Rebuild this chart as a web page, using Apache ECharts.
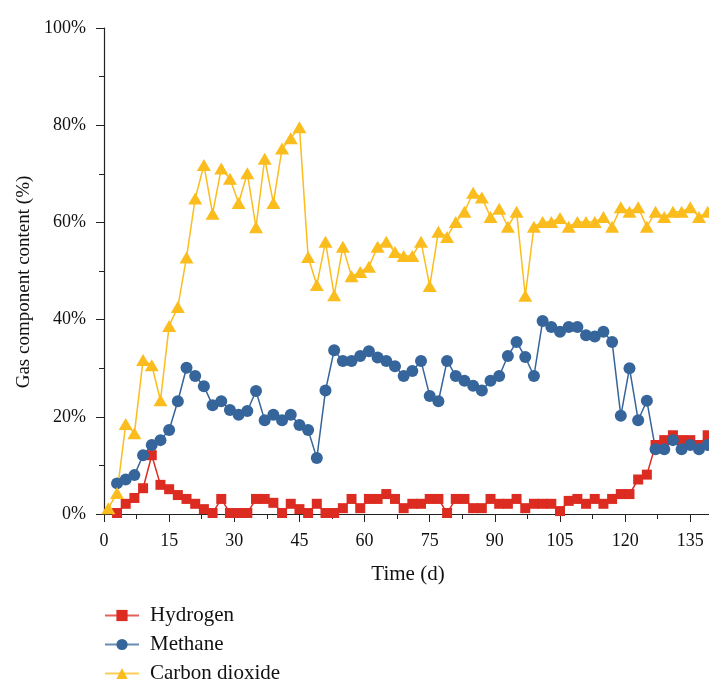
<!DOCTYPE html>
<html>
<head>
<meta charset="utf-8" />
<script src="https://cdn.jsdelivr.net/npm/echarts@6/dist/echarts.min.js"></script>
<style>
  html, body { margin: 0; padding: 0; background: #fff; }
  #main { width: 709px; height: 684px; }
</style>
</head>
<body>
<div id="main"></div>
<script>
// sampling days (d)
var days = [
  1, 3, 5, 7, 9, 11, 13, 15, 17, 19,
  21, 23, 25, 27, 29, 31, 33, 35, 37, 39,
  41, 43, 45, 47, 49, 51, 53, 55, 57, 59,
  61, 63, 65, 67, 69, 71, 73, 75, 77, 79,
  81, 83, 85, 87, 89, 91, 93, 95, 97, 99,
  101, 103, 105, 107, 109, 111, 113, 115, 117, 119,
  121, 123, 125, 127, 129, 131, 133, 135, 137, 139
];

// gas component content (%)
var hydrogen = [
  null, 0.2, 2.1, 3.3, 5.3, 12.1, 6.0, 5.1, 3.9, 3.1,
  2.1, 1.0, 0.2, 3.1, 0.2, 0.2, 0.2, 3.1, 3.1, 2.3,
  0.2, 2.1, 1.0, 0.2, 2.1, 0.2, 0.2, 1.2, 3.1, 1.2,
  3.1, 3.1, 4.1, 3.1, 1.2, 2.1, 2.1, 3.1, 3.1, 0.2,
  3.1, 3.1, 1.2, 1.2, 3.1, 2.1, 2.1, 3.1, 1.2, 2.1,
  2.1, 2.1, 0.6, 2.7, 3.1, 2.1, 3.1, 2.1, 3.1, 4.1,
  4.1, 7.1, 8.1, 14.2, 15.2, 16.2, 15.2, 15.2, 14.2, 16.2
];

var methane = [
  null, 6.3, 7.1, 8.0, 12.1, 14.2, 15.2, 17.3, 23.2, 30.1,
  28.4, 26.3, 22.4, 23.2, 21.4, 20.4, 21.2, 25.3, 19.3, 20.4,
  19.3, 20.4, 18.3, 17.3, 11.5, 25.4, 33.7, 31.5, 31.5, 32.5,
  33.5, 32.2, 31.5, 30.4, 28.4, 29.4, 31.5, 24.3, 23.2, 31.5,
  28.4, 27.4, 26.4, 25.4, 27.4, 28.4, 32.5, 35.4, 32.3, 28.4,
  39.7, 38.5, 37.5, 38.5, 38.5, 36.8, 36.5, 37.5, 35.4, 20.2,
  30.0, 19.3, 23.3, 13.3, 13.3, 15.2, 13.3, 14.2, 13.3, 14.2
];

var carbonDioxide = [
  1.2, 4.3, 18.5, 16.6, 31.7, 30.6, 23.4, 38.7, 42.6, 52.8,
  64.9, 71.8, 61.8, 71.1, 69.0, 64.0, 70.1, 59.0, 73.1, 64.0,
  75.2, 77.3, 79.6, 52.9, 47.1, 56.0, 45.0, 55.0, 48.9, 49.8,
  50.9, 55.0, 56.0, 53.9, 53.1, 53.1, 56.0, 46.9, 58.1, 57.0,
  60.1, 62.2, 66.1, 65.1, 61.1, 62.8, 59.1, 62.2, 44.9, 59.1,
  60.1, 60.1, 60.9, 59.1, 60.1, 60.1, 60.1, 61.1, 59.1, 63.1,
  62.2, 63.1, 59.1, 62.2, 61.1, 62.2, 62.2, 63.1, 61.1, 62.2
];

var seriesNames = ['Hydrogen', 'Methane', 'Carbon dioxide'];

function pairs(values) {
  var out = [];
  for (var i = 0; i < days.length; i++) {
    if (values[i] !== null) out.push([days[i], values[i]]);
  }
  return out;
}

var FONT = 'Liberation Serif';
var chart = echarts.init(document.getElementById('main'), null, { renderer: 'canvas' });

chart.setOption({
  animation: false,
  textStyle: { fontFamily: FONT, color: '#111' },
  grid: {
    left: 104,
    top: 28,
    width: 608,
    bottom: 170,
    containLabel: false,
    outerBoundsMode: 'none'
  },
  legend: {
    orient: 'vertical',
    left: 104,
    top: 605,
    height: 100,
    padding: 0,
    itemWidth: 34,
    itemHeight: 14,
    itemGap: 8,
    lineStyle: { opacity: 0.75 },
    textStyle: { fontFamily: FONT, fontSize: 21, color: '#111', padding: [0, 0, 0, 6] },
    data: seriesNames
  },
  xAxis: {
    type: 'value',
    min: 0,
    max: 140,
    interval: 15,
    name: 'Time (d)',
    nameLocation: 'middle',
    nameGap: 50,
    nameTextStyle: { fontFamily: FONT, fontSize: 21, color: '#111' },
    axisLine: { onZero: false, lineStyle: { color: '#222', width: 1.2 } },
    axisTick: { length: 8, inside: false, lineStyle: { color: '#222' } },
    minorTick: { show: true, splitNumber: 2, length: 5, lineStyle: { color: '#222' } },
    axisLabel: { margin: 18, fontSize: 18, color: '#111', fontFamily: FONT, showMaxLabel: false },
    splitLine: { show: false }
  },
  yAxis: {
    type: 'value',
    min: 0,
    max: 100,
    interval: 20,
    name: 'Gas component content (%)',
    nameLocation: 'middle',
    nameGap: 68,
    nameTextStyle: { fontFamily: FONT, fontSize: 19, color: '#111', padding: [0, 22, 0, 0] },
    axisLine: { show: true, lineStyle: { color: '#222', width: 1.2 } },
    axisTick: { show: true, length: 8, inside: false, lineStyle: { color: '#222' } },
    minorTick: { show: true, splitNumber: 2, length: 5, lineStyle: { color: '#222' } },
    axisLabel: { margin: 18, fontSize: 18, color: '#111', fontFamily: FONT, formatter: '{value}%' },
    splitLine: { show: false }
  },
  series: [
    {
      name: 'Hydrogen',
      type: 'line',
      data: pairs(hydrogen),
      symbol: 'rect',
      symbolSize: 10,
      color: '#dc2b21',
      lineStyle: { width: 1.5, color: '#dc2b21' },
      itemStyle: { color: '#dc2b21' }
    },
    {
      name: 'Methane',
      type: 'line',
      data: pairs(methane),
      symbol: 'circle',
      symbolSize: 12,
      color: '#35659a',
      lineStyle: { width: 1.5, color: '#35659a' },
      itemStyle: { color: '#35659a' }
    },
    {
      name: 'Carbon dioxide',
      type: 'line',
      data: pairs(carbonDioxide),
      symbol: 'triangle',
      symbolSize: [14, 12],
      color: '#fbbd1e',
      lineStyle: { width: 1.5, color: '#fbbd1e' },
      itemStyle: { color: '#fbbd1e' }
    }
  ]
});
</script>
</body>
</html>
